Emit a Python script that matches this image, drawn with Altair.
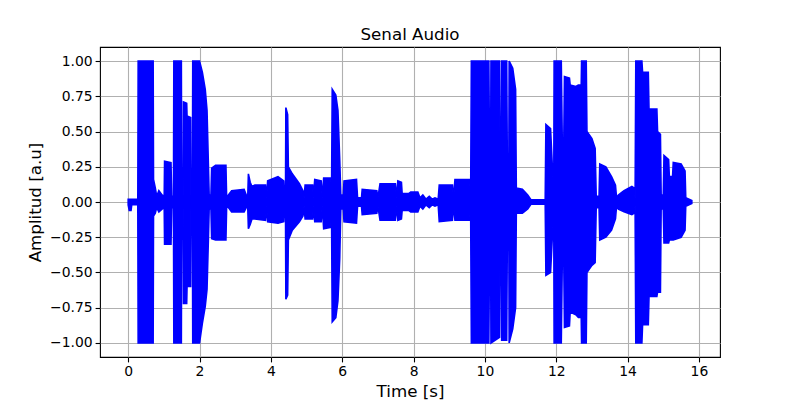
import altair as alt
import pandas as pd

# Envelope of the audio waveform (time in s, upper and lower amplitude)
env_t = [0.00, 0.03, 0.08, 0.10, 0.27, 0.28, 0.70, 0.71, 0.76, 0.80, 0.86, 0.95, 1.01, 1.02, 1.20, 1.22,
         1.27, 1.28, 1.49, 1.50, 1.54, 1.55, 1.64, 1.65, 1.75, 1.76, 1.80, 1.81, 2.00, 2.08, 2.16, 2.21,
         2.25, 2.27, 2.32, 2.34, 2.45, 2.74, 2.76, 2.81, 2.90, 3.25, 3.31, 3.35, 3.37, 3.42, 3.47, 3.55,
         3.85, 3.88, 3.91, 4.20, 4.36, 4.38, 4.41, 4.42, 4.47, 4.49, 4.60, 4.80, 4.90, 4.93, 4.96, 5.17,
         5.19, 5.23, 5.41, 5.44, 5.48, 5.68, 5.70, 5.72, 5.82, 5.88, 5.93, 5.96, 6.03, 6.05, 6.40, 6.43,
         6.54, 6.56, 6.97, 7.00, 7.06, 7.49, 7.52, 7.56, 7.66, 7.68, 7.86, 7.92, 8.12, 8.18, 8.26, 8.35,
         8.44, 8.52, 8.60, 8.69, 8.72, 9.09, 9.12, 9.16, 9.57, 9.60, 9.62, 10.11, 10.13, 10.16, 10.17, 10.41,
         10.43, 10.46, 10.47, 10.61, 10.63, 10.67, 10.68, 10.78, 10.86, 10.88, 11.05, 11.20, 11.29, 11.69, 11.71, 11.84,
         11.90, 11.93, 11.94, 12.14, 12.17, 12.21, 12.23, 12.37, 12.39, 12.55, 12.62, 12.70, 12.71, 12.84, 12.86, 13.00,
         13.09, 13.12, 13.20, 13.22, 13.39, 13.55, 13.66, 13.69, 13.74, 13.90, 14.12, 14.18, 14.21, 14.23, 14.40, 14.42,
         14.58, 14.60, 14.82, 14.84, 14.92, 14.94, 15.00, 15.02, 15.15, 15.17, 15.26, 15.28, 15.50, 15.61, 15.63, 15.80]
env_top = [0.02, 0.02, 0.02, 0.02, 0.02, 1.0, 1.0, 0.16, 0.10, 0.04, 0.08, 0.05, 0.04, 0.29, 0.28, 0.04,
           0.04, 1.0, 1.0, 0.05, 0.05, 0.71, 0.70, 0.61, 0.60, 0.05, 0.05, 1.0, 1.0, 0.92, 0.80, 0.65,
           0.25, 0.05, 0.05, 0.24, 0.26, 0.26, 0.03, 0.05, 0.08, 0.09, 0.05, 0.02, 0.20, 0.14, 0.11, 0.12,
           0.12, 0.03, 0.15, 0.18, 0.15, 0.04, 0.04, 0.67, 0.62, 0.25, 0.20, 0.13, 0.08, 0.03, 0.12, 0.12,
           0.03, 0.16, 0.15, 0.03, 0.17, 0.17, 0.05, 0.80, 0.76, 0.65, 0.30, 0.05, 0.05, 0.15, 0.16, 0.03,
           0.03, 0.09, 0.08, 0.03, 0.13, 0.13, 0.03, 0.15, 0.14, 0.06, 0.06, 0.07, 0.07, 0.03, 0.05, 0.02,
           0.04, 0.02, 0.03, 0.02, 0.12, 0.12, 0.02, 0.16, 0.16, 0.03, 1.0, 1.0, 0.30, 0.30, 1.0, 1.0,
           0.20, 0.20, 1.0, 1.0, 0.20, 0.20, 1.0, 0.95, 0.80, 0.10, 0.09, 0.05, 0.016, 0.016, 0.55, 0.52,
           0.20, 0.10, 1.0, 1.0, 0.40, 0.40, 0.89, 0.88, 0.83, 0.82, 0.83, 0.83, 1.0, 1.0, 0.50, 0.45,
           0.38, 0.04, 0.04, 0.27, 0.25, 0.18, 0.12, 0.03, 0.05, 0.08, 0.11, 0.10, 0.03, 1.0, 1.0, 0.92,
           0.92, 0.66, 0.66, 0.50, 0.48, 0.05, 0.05, 0.33, 0.30, 0.18, 0.18, 0.28, 0.27, 0.22, 0.03, 0.01]
env_bot = [-0.02, -0.06, -0.06, -0.02, -0.02, -1.0, -1.0, -0.10, -0.08, -0.04, -0.07, -0.05, -0.04, -0.30, -0.30, -0.04,
           -0.04, -1.0, -1.0, -0.05, -0.05, -0.72, -0.72, -0.60, -0.60, -0.05, -0.05, -1.0, -1.0, -0.86, -0.74, -0.62,
           -0.25, -0.05, -0.05, -0.26, -0.27, -0.27, -0.03, -0.04, -0.07, -0.07, -0.04, -0.02, -0.19, -0.16, -0.12, -0.12,
           -0.13, -0.03, -0.14, -0.15, -0.14, -0.04, -0.04, -0.69, -0.66, -0.27, -0.20, -0.14, -0.10, -0.03, -0.12, -0.12,
           -0.03, -0.14, -0.14, -0.03, -0.19, -0.18, -0.05, -0.85, -0.82, -0.70, -0.40, -0.05, -0.05, -0.14, -0.15, -0.03,
           -0.03, -0.09, -0.08, -0.03, -0.13, -0.13, -0.03, -0.13, -0.12, -0.06, -0.06, -0.07, -0.07, -0.03, -0.05, -0.02,
           -0.04, -0.02, -0.03, -0.02, -0.14, -0.13, -0.02, -0.13, -0.13, -0.03, -1.0, -1.0, -0.30, -0.30, -1.0, -0.96,
           -0.20, -0.20, -0.98, -0.98, -0.20, -0.20, -1.0, -0.90, -0.75, -0.08, -0.08, -0.05, -0.016, -0.016, -0.52, -0.50,
           -0.20, -0.10, -1.0, -1.0, -0.40, -0.40, -0.89, -0.88, -0.78, -0.80, -0.82, -0.82, -1.0, -1.0, -0.50, -0.45,
           -0.43, -0.04, -0.04, -0.27, -0.25, -0.20, -0.12, -0.03, -0.05, -0.07, -0.09, -0.08, -0.03, -1.0, -1.0, -0.87,
           -0.87, -0.67, -0.67, -0.64, -0.64, -0.05, -0.05, -0.29, -0.29, -0.27, -0.27, -0.27, -0.25, -0.20, -0.03, -0.01]

x_ticks = [0, 2, 4, 6, 8, 10, 12, 14, 16]
y_ticks = [-1.0, -0.75, -0.5, -0.25, 0.0, 0.25, 0.5, 0.75, 1.0]

df = pd.DataFrame({"t": env_t, "top": env_top, "bot": env_bot})

FONT = "DejaVu Sans"

chart = alt.Chart(df).mark_area(
    color="#0000ff", stroke="#0000ff", strokeWidth=1.6, clip=True, interpolate="linear"
).encode(
    x=alt.X("t:Q", scale=alt.Scale(domain=[-0.79, 16.59], nice=False, zero=False),
            axis=alt.Axis(values=x_ticks, format="d", title="Time [s]")),
    y=alt.Y("top:Q", scale=alt.Scale(domain=[-1.1, 1.1], nice=False, zero=False),
            axis=alt.Axis(values=y_ticks, format=".2f", title="Amplitud [a.u]")),
    y2="bot:Q",
).properties(
    width=620, height=310,
    title=alt.TitleParams("Senal Audio", fontSize=16.7, font=FONT, fontWeight="normal",
                          color="black", offset=3, anchor="middle"),
    autosize=alt.AutoSizeParams(type="none"),
    padding={"left": 92, "top": 39, "right": 72, "bottom": 45},
).configure_view(
    stroke="black", strokeWidth=1.1
).configure_axis(
    grid=True, gridColor="#b0b0b0", gridWidth=1.1, domain=False,
    tickColor="black", tickSize=4.9, tickWidth=1.1,
    labelFont=FONT, labelFontSize=13.9, labelColor="black", labelPadding=3,
    titleFont=FONT, titleFontSize=16.7, titleFontWeight="normal", titleColor="black",
    titlePadding=5,
)

chart.save("out.html", embed_options={"renderer": "svg", "actions": False})
